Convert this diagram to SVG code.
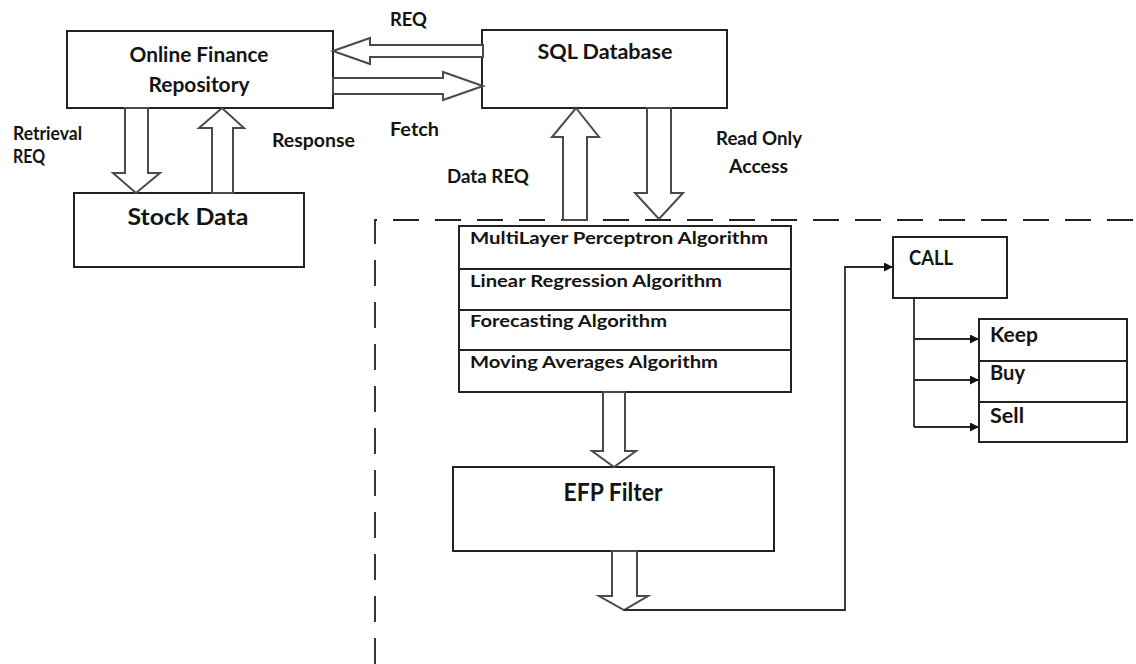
<svg xmlns="http://www.w3.org/2000/svg" width="1136" height="664" viewBox="0 0 1136 664">
<defs>
<style>
text{font-family:Lato,"Liberation Sans",sans-serif;font-weight:bold;fill:#141414}
.box{fill:#fff;stroke:#222;stroke-width:2}
.div{stroke:#222;stroke-width:1.8;fill:none}
.blk{fill:#fff;stroke:#4a4a4a;stroke-width:2;stroke-linejoin:miter}
.ln{fill:none;stroke:#2a2a2a;stroke-width:1.8}
.lbl{font-size:18px}
.big{font-size:20px}
.alg{font-size:17.5px}
</style>
<marker id="ah" viewBox="0 0 10 10" refX="10" refY="5" markerWidth="12" markerHeight="9" markerUnits="userSpaceOnUse" orient="auto">
<path d="M0,0 L10,5 L0,10 z" fill="#111"/>
</marker>
</defs>
<rect width="1136" height="664" fill="#fff"/>

<g id="boundary">
<path d="M375,664 V220 H1136" fill="none" stroke="#222" stroke-width="1.8" stroke-dasharray="26 16"/>
</g>

<g id="online-finance-repository">
<rect class="box" x="67" y="31" width="266" height="77"/>
<text class="big" x="199" y="62" text-anchor="middle" textLength="139" lengthAdjust="spacingAndGlyphs">Online Finance</text>
<text class="big" x="199" y="92" text-anchor="middle" textLength="101" lengthAdjust="spacingAndGlyphs">Repository</text>
</g>

<g id="sql-database">
<rect class="box" x="482" y="30" width="245" height="78"/>
<text class="big" x="605" y="59" text-anchor="middle" textLength="135" lengthAdjust="spacingAndGlyphs">SQL Database</text>
</g>

<g id="stock-data">
<rect class="box" x="74" y="193" width="230" height="74"/>
<text x="188" y="225" font-size="23" text-anchor="middle" textLength="121" lengthAdjust="spacingAndGlyphs">Stock Data</text>
</g>

<g id="algorithms">
<rect class="box" x="459" y="226" width="332" height="166"/>
<line class="div" x1="459" y1="269" x2="791" y2="269"/>
<line class="div" x1="459" y1="310" x2="791" y2="310"/>
<line class="div" x1="459" y1="350" x2="791" y2="350"/>
<text class="alg" x="470" y="244" textLength="298" lengthAdjust="spacingAndGlyphs">MultiLayer Perceptron Algorithm</text>
<text class="alg" x="470" y="287" textLength="252" lengthAdjust="spacingAndGlyphs">Linear Regression Algorithm</text>
<text class="alg" x="470" y="327" textLength="197" lengthAdjust="spacingAndGlyphs">Forecasting Algorithm</text>
<text class="alg" x="470" y="368" textLength="248" lengthAdjust="spacingAndGlyphs">Moving Averages Algorithm</text>
</g>

<g id="efp-filter">
<rect class="box" x="453" y="467" width="321" height="84"/>
<text x="613" y="501" font-size="24" text-anchor="middle" textLength="99" lengthAdjust="spacingAndGlyphs">EFP Filter</text>
</g>

<g id="call">
<rect class="box" x="893" y="237" width="114" height="61"/>
<text class="big" x="909" y="265" textLength="44" lengthAdjust="spacingAndGlyphs">CALL</text>
</g>

<g id="decisions">
<rect class="box" x="979" y="319" width="148" height="123"/>
<line class="div" x1="979" y1="361" x2="1127" y2="361"/>
<line class="div" x1="979" y1="402" x2="1127" y2="402"/>
<text class="big" x="990" y="342" textLength="48" lengthAdjust="spacingAndGlyphs">Keep</text>
<text class="big" x="990" y="380" textLength="35" lengthAdjust="spacingAndGlyphs">Buy</text>
<text class="big" x="990" y="423" textLength="34" lengthAdjust="spacingAndGlyphs">Sell</text>
</g>

<g id="connectors">
<polygon class="blk" points="333,51 370,38 370,45 483,45 483,57 370,57 370,64"/>
<polygon class="blk" points="333,78 443,78 443,72 483,86 443,100 443,94 333,94"/>
<polygon class="blk" points="125,108 148,108 148,173 160,173 136,193 113,173 125,173"/>
<polygon class="blk" points="212,193 212,128 199,128 222,108 244,128 233,128 233,193"/>
<polygon class="blk" points="563,220 563,137 552,137 576,108 599,137 587,137 587,220"/>
<polygon class="blk" points="647,108 671,108 671,193 683,193 659,219 635,193 647,193"/>
<polygon class="blk" points="603,392 625,392 625,451 636,451 614,467 592,451 603,451"/>
<polygon class="blk" points="612,551 637,551 637,596 648,596 624,610 599,596 612,596"/>
<path class="ln" d="M624,610 H845 V267 H893" marker-end="url(#ah)"/>
<path class="ln" d="M914,298 V427"/>
<path class="ln" d="M914,339 H979" marker-end="url(#ah)"/>
<path class="ln" d="M914,380 H979" marker-end="url(#ah)"/>
<path class="ln" d="M914,427 H979" marker-end="url(#ah)"/>
<text class="lbl" x="390" y="26" textLength="37" lengthAdjust="spacingAndGlyphs">REQ</text>
<text class="lbl" x="390" y="136" textLength="49" lengthAdjust="spacingAndGlyphs">Fetch</text>
<text class="lbl" x="272" y="147" textLength="83" lengthAdjust="spacingAndGlyphs">Response</text>
<text class="lbl" x="13" y="140" textLength="69" lengthAdjust="spacingAndGlyphs">Retrieval</text>
<text class="lbl" x="13" y="163" textLength="32" lengthAdjust="spacingAndGlyphs">REQ</text>
<text class="lbl" x="447" y="183" textLength="82" lengthAdjust="spacingAndGlyphs">Data REQ</text>
<text class="lbl" x="716" y="145" textLength="86" lengthAdjust="spacingAndGlyphs">Read Only</text>
<text class="lbl" x="729" y="173" textLength="59" lengthAdjust="spacingAndGlyphs">Access</text>
</g>
</svg>
